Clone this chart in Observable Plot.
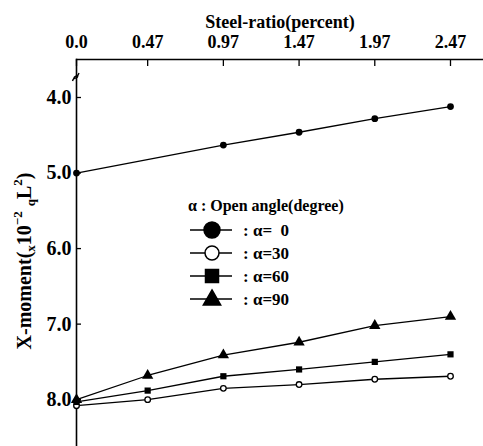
<!DOCTYPE html>
<html><head><meta charset="utf-8">
<script src="https://cdn.jsdelivr.net/npm/d3@7"></script>
<script src="https://cdn.jsdelivr.net/npm/@observablehq/plot@0.6"></script>
<style>body{margin:0;background:#fff}</style>
</head><body><div id="chart"></div>
<script>
const steelRatio = [0.0, 0.47, 0.97, 1.47, 1.97, 2.47];
const xTickLabels = ["0.0", "0.47", "0.97", "1.47", "1.97", "2.47"];
const yTicks = [4, 5, 6, 7, 8];
const alpha0 = [5.0, null, 4.63, 4.46, 4.28, 4.12];
const alpha30 = [8.08, 8.0, 7.85, 7.80, 7.73, 7.69];
const alpha60 = [8.03, 7.88, 7.69, 7.60, 7.50, 7.40];
const alpha90 = [8.0, 7.68, 7.41, 7.24, 7.02, 6.90];
const seriesLabels = [": α=  0", ": α=30", ": α=60", ": α=90"];
const xTitle = "Steel-ratio(percent)";
const legendTitle = "α : Open angle(degree)";

const FONT = "Liberation Serif, DejaVu Serif, serif";

function rows(vals, name) {
  return steelRatio.map((x, i) => ({x, y: vals[i], s: name})).filter(d => d.y != null);
}
const d0 = rows(alpha0, "0"), d30 = rows(alpha30, "30"), d60 = rows(alpha60, "60"), d90 = rows(alpha90, "90");

const plot = Plot.plot({
  width: 483, height: 446,
  marginTop: 59, marginLeft: 76, marginRight: 0, marginBottom: 0,
  style: {fontFamily: FONT, fontWeight: "bold", fontSize: "18px", background: "#fff", color: "#000"},
  x: {domain: [0, 2.688]},
  y: {domain: [3.497, 8.62], reverse: true},
  marks: [
    Plot.frame({anchor: "top", strokeWidth: 1.3}),
    Plot.frame({anchor: "left", strokeWidth: 1.6}),
    Plot.axisX({anchor: "top", ticks: steelRatio, text: null, tickSize: -6, strokeWidth: 1.3, label: null}),
    Plot.axisX({anchor: "top", ticks: steelRatio, tickSize: 0, tickPadding: 12,
      tickFormat: (d) => xTickLabels[steelRatio.indexOf(d)], label: xTitle, labelAnchor: "center", labelOffset: 44, labelArrow: "none"}),
    Plot.axisY({anchor: "left", ticks: yTicks, text: null, tickSize: -5, strokeWidth: 1.3, label: null}),
    Plot.axisY({anchor: "left", ticks: yTicks, tickSize: 0, tickPadding: 5, tickFormat: ".1f", fontSize: 20, label: null}),
    Plot.line(d0, {x: "x", y: "y", stroke: "#000", strokeWidth: 1.3}),
    Plot.line(d30, {x: "x", y: "y", stroke: "#000", strokeWidth: 1.3}),
    Plot.line(d60, {x: "x", y: "y", stroke: "#000", strokeWidth: 1.3}),
    Plot.line(d90, {x: "x", y: "y", stroke: "#000", strokeWidth: 1.3}),
    Plot.dot(d0, {x: "x", y: "y", r: 3.4, fill: "#000", symbol: "circle"}),
    Plot.dot(d30, {x: "x", y: "y", r: 2.8, fill: "#fff", stroke: "#000", strokeWidth: 1.3, symbol: "circle"}),
    Plot.dot(d60, {x: "x", y: "y", r: 3.5, fill: "#000", symbol: "square"}),
    Plot.dot(d90, {x: "x", y: "y", r: 4.2, fill: "#000", symbol: "triangle"})
  ]
});

const svg = d3.select(plot);
svg.attr("font-family", FONT);

// Y-axis title with sub/superscripts
const ylab = svg.append("text")
  .attr("transform", "translate(31,261) rotate(-90)")
  .attr("text-anchor", "middle")
  .attr("font-family", FONT).attr("font-weight", "bold").attr("font-size", 20).attr("fill", "#000");
ylab.append("tspan").text("X-moment(");
ylab.append("tspan").attr("font-size", 13).attr("dy", 4).text("x");
ylab.append("tspan").attr("dy", -4).text("10");
ylab.append("tspan").attr("font-size", 13).attr("dy", -9).text("−2");
ylab.append("tspan").attr("font-size", 13).attr("dy", 13).attr("dx", 5).text("q");
ylab.append("tspan").attr("dy", -4).text("L");
ylab.append("tspan").attr("font-size", 13).attr("dy", -9).text("2");
ylab.append("tspan").attr("dy", 9).text(")");

// axis break mark
svg.append("path").attr("d", "M72.5,81 C73.5,76 77,80 78,76 M73.5,79 C74.5,74 78,78 79,73")
  .attr("fill", "none").attr("stroke", "#000").attr("stroke-width", 1.3);

// legend
const lg = svg.append("g").attr("font-family", FONT).attr("font-weight", "bold")
  .attr("fill", "#000").attr("text-anchor", "start");
lg.append("text").attr("x", 188).attr("y", 211).attr("font-size", 16).text(legendTitle);
const syms = [
  {type: d3.symbolCircle, size: Math.PI * 8 * 8, fill: "#000"},
  {type: d3.symbolCircle, size: Math.PI * 7 * 7, fill: "#fff"},
  {type: d3.symbolSquare, size: 13 * 13, fill: "#000"},
  {type: d3.symbolTriangle, size: 130, fill: "#000"}
];
seriesLabels.forEach((lab, i) => {
  const cy = 230 + i * 23;
  lg.append("line").attr("x1", 190).attr("x2", 232).attr("y1", cy).attr("y2", cy)
    .attr("stroke", "#000").attr("stroke-width", 1.3);
  lg.append("path").attr("d", d3.symbol(syms[i].type, syms[i].size)())
    .attr("transform", `translate(212,${cy + (i === 3 ? 1 : 0)})`)
    .attr("fill", syms[i].fill).attr("stroke", "#000").attr("stroke-width", 1.5);
  lg.append("text").attr("x", 243).attr("y", cy + 6).attr("font-size", 17)
    .attr("xml:space", "preserve").style("white-space", "pre").text(lab);
});

document.getElementById("chart").appendChild(plot);
</script>
</body></html>
